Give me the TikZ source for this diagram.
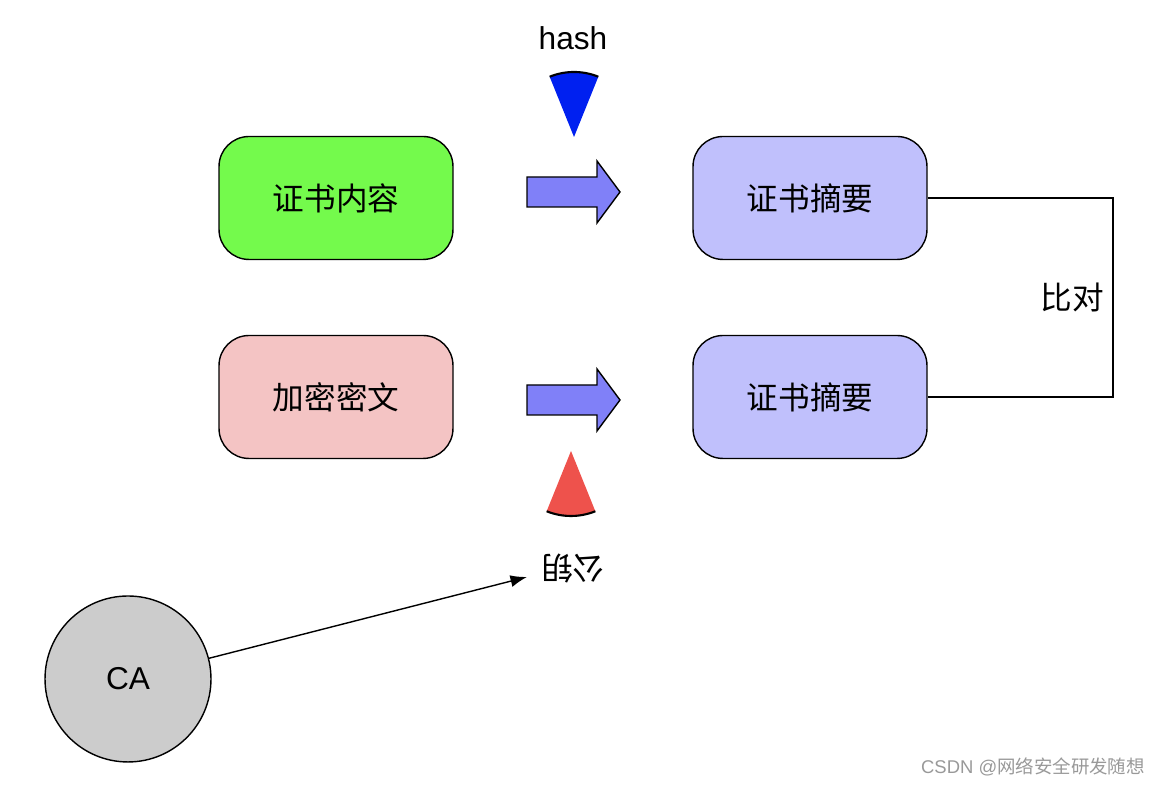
\documentclass[tikz,border=0pt]{standalone}
\usepackage{fontspec}
\setmainfont{Liberation Sans}
\newfontfamily\cjk{Noto Sans CJK SC}
\usepackage{tikz}
\usetikzlibrary{arrows.meta}

\definecolor{certgreen}{RGB}{116,250,76}
\definecolor{cipherpink}{RGB}{244,196,196}
\definecolor{digestblue}{RGB}{192,192,252}
\definecolor{arrowblue}{RGB}{128,128,248}
\definecolor{hashblue}{RGB}{0,32,240}
\definecolor{keyred}{RGB}{238,82,76}

\begin{document}
\begin{tikzpicture}[x=0.02cm,y=0.02cm,
                    box/.style={draw,line width=0.8pt,rounded corners=0.6cm,minimum width=4.68cm,minimum height=2.46cm,font=\fontsize{18}{20}\selectfont\cjk},
                    label/.style={font=\fontsize{18}{20}\selectfont}]
                    \useasboundingbox (0,0) rectangle (1164,786);
                    \node [box,fill=certgreen] (content) at (336,588) {证书内容};
                    \node [box,fill=cipherpink] (cipher) at (336,389) {加密密文};
                    \node [box,fill=digestblue] (digesta) at (810,588) {证书摘要};
                    \node [box,fill=digestblue] (digestb) at (810,389) {证书摘要};
                    % block arrows
                    \foreach \y in {594,386}
                    \draw [line width=0.8pt,fill=arrowblue] (527,\y-15) -- (597,\y-15) -- (597,\y-31) -- (620,\y)
                    -- (597,\y+31) -- (597,\y+15) -- (527,\y+15) -- cycle;
                    % hash sector
                    \fill [hashblue] (574,649) -- ++(68:65) arc [start angle=68,end angle=112,radius=65] -- cycle;
                    \draw [line width=1.2pt] (574,649) ++(68:65) arc [start angle=68,end angle=112,radius=65];
                    \node [label] (hash) at (573,748) {hash};
                    % key sector
                    \fill [keyred] (571,335) -- ++(248:65) arc [start angle=248,end angle=292,radius=65] -- cycle;
                    \draw [line width=1.2pt] (571,335) ++(248:65) arc [start angle=248,end angle=292,radius=65];
                    \node [label,font=\fontsize{18}{20}\selectfont\cjk,rotate=180] (key) at (573,218) {公钥};
                    % compare line
                    \draw [line width=0.8pt] (digesta.east) -- (1113,588) |- (digestb.east);
                    \node [label,font=\fontsize{18}{20}\selectfont\cjk] (compare) at (1072,489) {比对};
                    % CA
                    \node [draw,line width=0.8pt,circle,fill=black!20,minimum size=3.32cm,label] (ca) at (128,107) {CA};
                    \coordinate (keyin) at (527,209);
                    \draw [line width=0.8pt,-{Latex[length=0.33cm,width=0.24cm]}] (ca) -- (keyin);
                    \node [text=black!40,font=\fontsize{10.5}{12}\selectfont] (mark) at (1033,19) {CSDN @{\cjk 网络安全研发随想}};
                \end{tikzpicture}
\end{document}
